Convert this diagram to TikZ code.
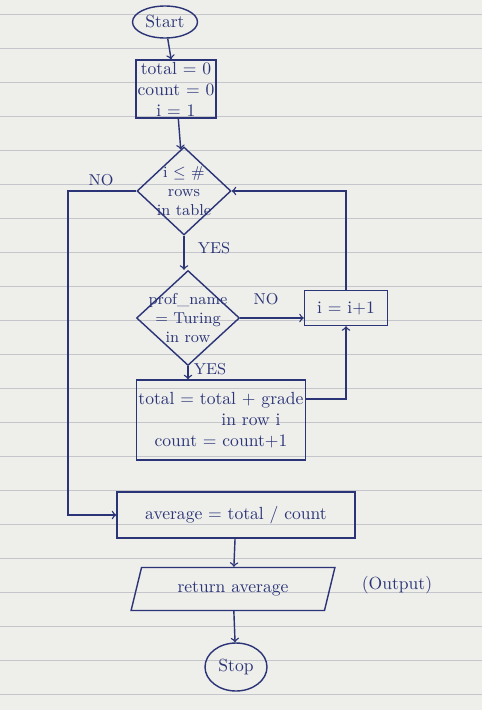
\documentclass[tikz,border=0pt]{standalone}
\usetikzlibrary{shapes.geometric}
\definecolor{ink}{RGB}{42,52,118}
\definecolor{paper}{RGB}{238,238,235}
\definecolor{rule}{RGB}{196,198,204}
\tikzset{
  flow/.style={draw=ink,text=ink,thick,align=center,inner sep=1pt},
  term/.style={flow,ellipse},
  procbox/.style={flow,rectangle},
  decide/.style={flow,diamond,inner sep=0pt},
  iobox/.style={flow,trapezium,trapezium left angle=70,trapezium right angle=110,trapezium stretches=true},
  lbl/.style={text=ink,font=\small},
  intext/.style={text=ink,align=center,font=\small,inner sep=0pt},
  line/.style={draw=ink,thick}
}
\begin{document}
\begin{tikzpicture}[x=0.02cm,y=-0.02cm]
\useasboundingbox (0,0) rectangle (482,710);
\fill[paper] (0,0) rectangle (482,710);
% lined paper
\foreach \r in {14,48,...,694}
  \draw[rule] (0,\r) -- (482,\r);
% nodes
\node[term,minimum width=1.3cm,minimum height=0.64cm] (start) at (165,22) {Start};
\node[procbox,minimum width=1.56cm,minimum height=1.14cm] (init) at (176,89) {total = 0\\count = 0\\i = 1};
\node[decide,minimum width=1.88cm,minimum height=1.76cm] (rows) at (184,191) {};
\node[intext] (rowstxt) at (rows) {i $\leq$ \#\\rows\\in table};
\node[decide,minimum width=2.06cm,minimum height=1.9cm] (prof) at (188,318) {};
\node[intext] (proftxt) at (prof) {prof\_name\\= Turing\\in row};
\node[procbox,minimum width=1.66cm,minimum height=0.7cm] (inc) at (346,308) {i = i+1};
\node[procbox,minimum width=3.36cm,minimum height=1.6cm] (tot) at (221,420) {total = total + grade\\\hspace*{1.2cm}in row i\\count = count+1};
\node[procbox,minimum width=4.76cm,minimum height=0.92cm] (avg) at (236,515) {average = total / count};
\node[iobox,minimum width=4.1cm,minimum height=0.86cm] (ret) at (233,589) {return average};
\node[lbl,font=\normalsize] (outlbl) at (397,585) {(Output)};
\node[term,minimum width=1.24cm,minimum height=0.96cm] (stop) at (236,667) {Stop};
\node[lbl] (nol) at (101,180) {NO};
\node[lbl] (yes1) at (214,248) {YES};
\node[lbl] (no2) at (266,299) {NO};
\node[lbl] (yes2) at (210,369) {YES};
\coordinate (leftrun) at (68,350);
% connectors
\draw[line,->] (start) -- (init);
\draw[line,->] (init) -- (rows);
\draw[line,->] (rows.west) -| (leftrun) |- (avg.west);
\draw[line,->] (rows.south) -- (rows.south |- prof.north);
\draw[line,->] (prof.east) -- (prof.east -| inc.west);
\draw[line,->] (inc.north) |- (rows.east);
\draw[line,->] (prof.south) -- (prof.south |- tot.north);
\draw[line,->] ([yshift=0.42cm]tot.east) -| (inc.south);
\draw[line,->] (avg) -- (ret);
\draw[line,->] (ret) -- (stop);
\end{tikzpicture}
\end{document}
